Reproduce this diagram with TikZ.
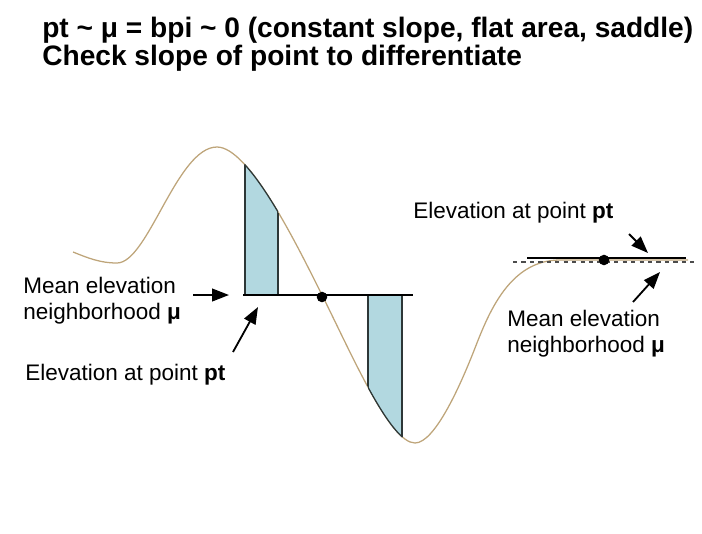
\documentclass[tikz,border=0pt]{standalone}
\usepackage{fontspec}
\setmainfont{Liberation Sans}
\usetikzlibrary{arrows.meta,positioning}

\definecolor{terrain}{RGB}{190,165,122}
\definecolor{devfill}{RGB}{178,216,224}
\definecolor{devedge}{RGB}{45,55,55}

\begin{document}
\begin{tikzpicture}[x=0.025cm, y=-0.025cm,
    terrainline/.style={draw=terrain, line width=0.9pt},
    devbox/.style={fill=devfill, draw=devedge, line width=0.9pt},
    devside/.style={draw=devedge, line width=0.9pt},
    meanline/.style={draw=black, line width=1.4pt},
    dot/.style={circle, fill=black, inner sep=0pt, minimum size=7.5pt},
    labeltext/.style={font=\fontsize{16}{18.4}\selectfont, align=left, inner sep=0pt},
    headline/.style={font=\bfseries\fontsize{20}{20}\selectfont, align=left, inner sep=0pt},
    arrow/.style={-{Triangle[length=12pt,width=9pt]}, line width=1.3pt}
]

\useasboundingbox (0,0) rectangle (702,533);

% Title
\node[headline, anchor=north west] (head) at (42,16.5) {pt \textasciitilde{} μ = bpi \textasciitilde{} 0 (constant slope, flat area, saddle)\\Check slope of point to differentiate};

% Terrain profile
\draw[terrainline] (73,252) .. controls (88,258) and (100,263) .. (117,263)
    .. controls (148,263) and (177,147) .. (217,147)
    .. controls (249,147) and (297,245) .. (322,295)
    .. controls (352,355) and (390,443) .. (415,443)
    .. controls (435,443) and (461,384) .. (475,348)
    .. controls (489,312) and (510,260) .. (560,260)
    -- (688,260);

% Shaded deviation above the mean
\begin{scope}
    \clip (245,0) rectangle (278,295);
    \filldraw[devbox] (217,147) .. controls (249,147) and (297,245) .. (322,295) -- (217,295) -- cycle;
\end{scope}
\begin{scope}
    \clip (217,147) .. controls (249,147) and (297,245) .. (322,295) -- (217,295) -- cycle;
    \draw[devside] (245,0) rectangle (278,295);
\end{scope}

% Shaded deviation below the mean
\begin{scope}
    \clip (368,295) rectangle (402,520);
    \filldraw[devbox] (322,295) .. controls (352,355) and (390,443) .. (415,443) -- (415,295) -- cycle;
\end{scope}
\begin{scope}
    \clip (322,295) .. controls (352,355) and (390,443) .. (415,443) -- (415,295) -- cycle;
    \draw[devside] (368,295) rectangle (402,520);
\end{scope}

% Mean lines
\draw[meanline] (243,295) -- (413,295);
\draw[meanline] (527,258) -- (686,258);
\draw[black!70, dashed, line width=1pt] (513,262) -- (698,262);

% Points
\node[dot] (lpt) at (322,297) {};
\node[dot] (rpt) at (604,260) {};

% Labels
\node[labeltext, anchor=west] (lmean) at (23,301) {Mean elevation\\neighborhood \textbf{μ}};
\node[labeltext, anchor=base west] (lelev) at (25,380) {Elevation at point \textbf{pt}};
\node[labeltext, anchor=base west] (relev) at (413,218) {Elevation at point \textbf{pt}};
\node[labeltext, anchor=west] (rmean) at (507,334) {Mean elevation\\neighborhood \textbf{μ}};

% Arrows
\coordinate (lmeantail) at (193,295);
\coordinate (lmeantip) at (229,295);
\coordinate (lelevtail) at (233,352);
\coordinate (lelevtip) at (258,307);
\coordinate (relevtail) at (629,234);
\coordinate (relevtip) at (648,253);
\coordinate (rmeantail) at (633,302);
\coordinate (rmeantip) at (660,272);
\draw[arrow] (lmeantail) -- (lmeantip);
\draw[arrow] (lelevtail) -- (lelevtip);
\draw[arrow] (relevtail) -- (relevtip);
\draw[arrow] (rmeantail) -- (rmeantip);

\end{tikzpicture}
\end{document}
